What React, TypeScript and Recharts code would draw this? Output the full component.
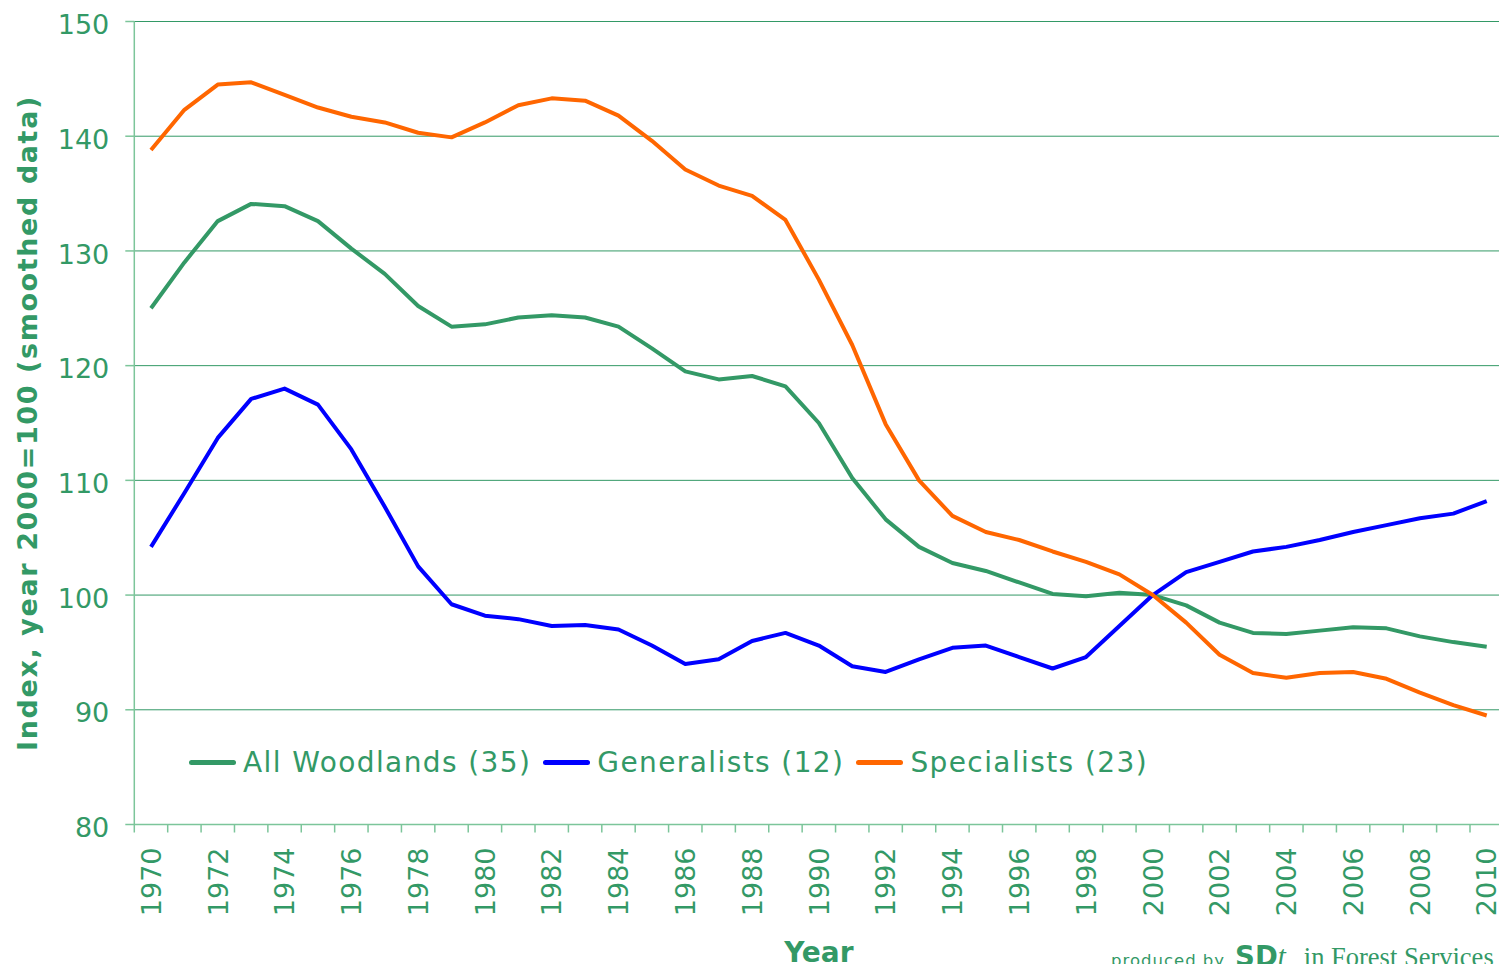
import React from 'react';
import { LineChart, Line, XAxis, YAxis, CartesianGrid, Legend } from 'recharts';

// woodland bird index, year 2000 = 100 (smoothed)
const years = [
  1970, 1971, 1972, 1973, 1974, 1975, 1976, 1977, 1978, 1979,
  1980, 1981, 1982, 1983, 1984, 1985, 1986, 1987, 1988, 1989,
  1990, 1991, 1992, 1993, 1994, 1995, 1996, 1997, 1998, 1999,
  2000, 2001, 2002, 2003, 2004, 2005, 2006, 2007, 2008, 2009, 2010,
];
const allWoodlands = [
  125.0, 129.0, 132.6, 134.1, 133.9, 132.6, 130.2, 128.0, 125.2, 123.4,
  123.6, 124.2, 124.4, 124.2, 123.4, 121.5, 119.5, 118.8, 119.1, 118.2,
  115.0, 110.2, 106.6, 104.2, 102.8, 102.1, 101.1, 100.1, 99.9, 100.2,
  100.0, 99.1, 97.6, 96.7, 96.6, 96.9, 97.2, 97.1, 96.4, 95.9, 95.5,
];
const generalists = [
  104.2, 108.9, 113.7, 117.1, 118.0, 116.6, 112.7, 107.7, 102.5, 99.2,
  98.2, 97.9, 97.3, 97.4, 97.0, 95.6, 94.0, 94.4, 96.0, 96.7,
  95.6, 93.8, 93.3, 94.4, 95.4, 95.6, 94.6, 93.6, 94.6, 97.3,
  100.0, 102.0, 102.9, 103.8, 104.2, 104.8, 105.5, 106.1, 106.7, 107.1, 108.2,
];
const specialists = [
  138.8, 142.3, 144.5, 144.7, 143.6, 142.5, 141.7, 141.2, 140.3, 139.9,
  141.2, 142.7, 143.3, 143.1, 141.8, 139.6, 137.1, 135.7, 134.8, 132.7,
  127.5, 121.8, 114.9, 110.0, 106.9, 105.5, 104.8, 103.8, 102.9, 101.8,
  100.0, 97.6, 94.8, 93.2, 92.8, 93.2, 93.3, 92.7, 91.5, 90.4, 89.5,
];
const yTicks = [80, 90, 100, 110, 120, 130, 140, 150];
const yearLabels = years.filter((y) => y % 2 === 0);
// tick marks sit between the years, labels on every other year
const yearEdges = [...years.map((y) => y - 0.5), 2010.5];
const xTicks = [...yearEdges, ...yearLabels].sort((a, b) => a - b);

const series = [
  { key: 'all', name: 'All Woodlands (35)', color: '#339966' },
  { key: 'gen', name: 'Generalists (12)', color: '#0000ff' },
  { key: 'spec', name: 'Specialists (23)', color: '#ff6600' },
];

const data = years.map((year, i) => ({
  year,
  all: allWoodlands[i],
  gen: generalists[i],
  spec: specialists[i],
}));

const GREEN = '#339966';
const AXIS = '#7cc59a';
const FONT = '"DejaVu Sans", Verdana, sans-serif';

const YearTick = ({ x, y, payload }: any) => {
  if (!Number.isInteger(payload.value)) {
    return <line x1={x} x2={x} y1={y} y2={y + 8} stroke={AXIS} strokeWidth={1.5} />;
  }
  return (
    <text
      transform={`translate(${x},${y + 23}) rotate(-90)`}
      textAnchor="end"
      dy="0.36em"
      fill={GREEN}
      fontSize={27}
      fontFamily={FONT}
    >
      {payload.value}
    </text>
  );
};

const ValueTick = ({ x, y, payload }: any) => (
  <text x={x} y={y + 3} dy="0.355em" textAnchor="end" fill={GREEN} fontSize={27} fontFamily={FONT}>
    {payload.value}
  </text>
);

const renderLegend = () => (
  <div style={{ display: 'flex', alignItems: 'center', fontFamily: FONT, fontSize: 28, color: GREEN, letterSpacing: 1.4, whiteSpace: 'nowrap' }}>
    {series.map((s) => (
      <div key={s.key} style={{ display: 'flex', alignItems: 'center', marginRight: 12 }}>
        <span style={{ display: 'inline-block', width: 47, height: 5, borderRadius: 3, background: s.color, marginRight: 7 }} />
        <span>{s.name}</span>
      </div>
    ))}
  </div>
);

export default function App() {
  return (
    <div style={{ position: 'relative', width: 1499, height: 964, overflow: 'hidden', background: '#fff' }}>
      <style>{'body{margin:0;overflow:hidden}'}</style>
      <LineChart
        width={1504}
        height={964}
        data={data}
        margin={{ top: 21.5, right: 0.6, bottom: 0, left: 0 }}
      >
        <CartesianGrid vertical={false} stroke={GREEN} strokeWidth={1} />
        <XAxis
          dataKey="year"
          type="number"
          domain={[1969.5, 2010.5]}
          ticks={xTicks}
          interval={0}
          height={139.5}
          tickSize={0}
          tickMargin={0}
          tickLine={false}
          axisLine={{ stroke: AXIS, strokeWidth: 1.5 }}
          tick={<YearTick />}
          label={{
            value: 'Year',
            position: 'insideBottom',
            offset: 2,
            fill: GREEN,
            fontSize: 28,
            fontWeight: 'bold',
            fontFamily: FONT,
          }}
          allowDataOverflow
        />
        <YAxis
          width={134.3}
          domain={[80, 150]}
          ticks={yTicks}
          interval={0}
          tickSize={9}
          tickMargin={16}
          axisLine={{ stroke: AXIS, strokeWidth: 1.5 }}
          tickLine={{ stroke: AXIS, strokeWidth: 1.5 }}
          tick={<ValueTick />}
          label={{
            value: 'Index, year 2000=100 (smoothed data)',
            angle: -90,
            position: 'insideLeft',
            offset: 27,
            fill: GREEN,
            fontSize: 27,
            fontWeight: 'bold',
            fontFamily: FONT,
            style: { textAnchor: 'middle', letterSpacing: 1.6 },
          }}
        />
        <Legend
          layout="horizontal"
          verticalAlign="middle"
          align="center"
          content={renderLegend}
          wrapperStyle={{ position: 'absolute', left: 189, top: 746, width: 'auto' }}
        />
        {series.map((s) => (
          <Line
            key={s.key}
            dataKey={s.key}
            name={s.name}
            stroke={s.color}
            strokeWidth={4}
            dot={false}
            strokeLinejoin="round"
            isAnimationActive={false}
          />
        ))}
      </LineChart>
      <svg width={1499} height={964} style={{ position: 'absolute', left: 0, top: 0, pointerEvents: 'none' }}>
        <text x={1111} y={966} fill={GREEN}>
          <tspan fontFamily={FONT} fontSize={16.5} letterSpacing={1}>produced by</tspan>
          <tspan dx={10} fontFamily={FONT} fontWeight="bold" fontSize={27.5}>SD</tspan>
          <tspan fontFamily='"Liberation Serif", serif' fontStyle="italic" fontSize={29}>t</tspan>
          <tspan dx={18} fontFamily='"Liberation Serif", serif' fontSize={26.5}>in Forest Services</tspan>
        </text>
      </svg>
    </div>
  );
}
